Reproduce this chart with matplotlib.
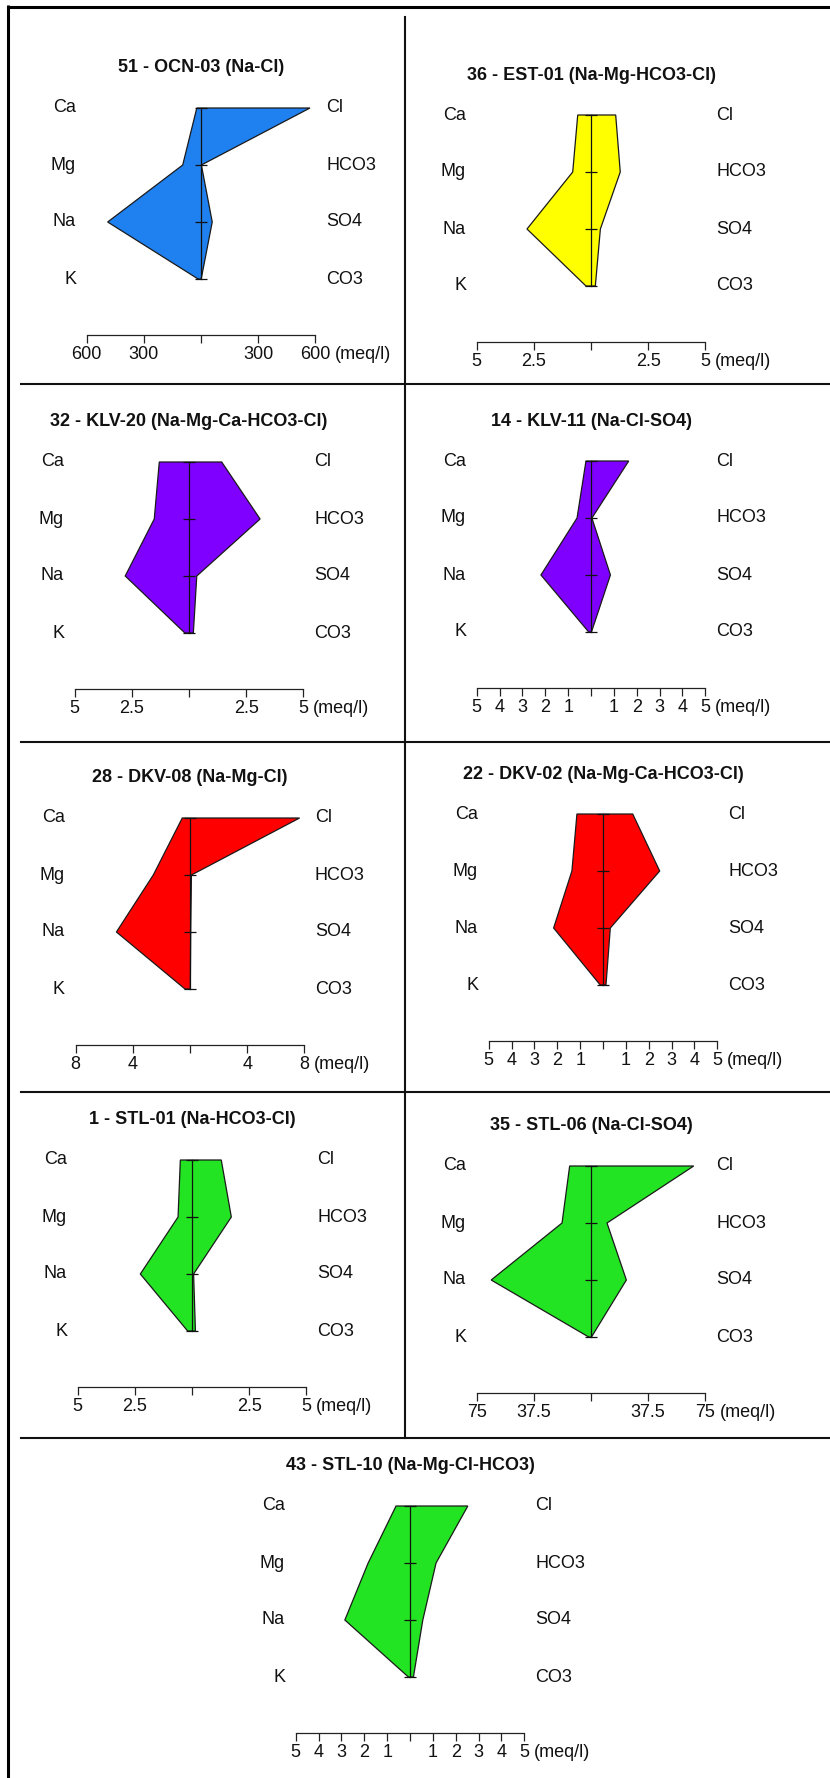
import numpy as np
import matplotlib.pyplot as plt

plt.rcParams['font.family'] = ['Liberation Sans', 'DejaVu Sans']

W, H = 830, 1778

titles = ["51 - OCN-03 (Na-Cl)", "36 - EST-01 (Na-Mg-HCO3-Cl)",
          "32 - KLV-20 (Na-Mg-Ca-HCO3-Cl)", "14 - KLV-11 (Na-Cl-SO4)",
          "28 - DKV-08 (Na-Mg-Cl)", "22 - DKV-02 (Na-Mg-Ca-HCO3-Cl)",
          "1 - STL-01 (Na-HCO3-Cl)", "35 - STL-06 (Na-Cl-SO4)",
          "43 - STL-10 (Na-Mg-Cl-HCO3)"]
cations = ["Ca", "Mg", "Na", "K"]
anions = ["Cl", "HCO3", "SO4", "CO3"]

# meq/l, same order as cations / anions
cat_vals = [[22, 96, 490, 15],
            [0.58, 0.80, 2.80, 0.22],
            [1.30, 1.52, 2.79, 0.18],
            [0.22, 0.61, 2.19, 0.10],
            [0.54, 2.57, 5.15, 0.35],
            [1.14, 1.36, 2.16, 0.12],
            [0.51, 0.61, 2.26, 0.19],
            [14.0, 19.0, 65.5, 1.5],
            [0.61, 1.83, 2.85, 0.07]]
an_vals = [[572, 2, 59, 1],
           [1.08, 1.28, 0.41, 0.19],
           [1.43, 3.11, 0.34, 0.19],
           [1.65, 0.04, 0.85, 0.02],
           [7.67, 0.10, 0.05, 0.02],
           [1.30, 2.48, 0.32, 0.13],
           [1.28, 1.72, 0.07, 0.15],
           [67.4, 10.5, 23.2, 0.3],
           [2.53, 1.14, 0.56, 0.15]]
scale_max = [600, 5, 5, 5, 8, 5, 5, 75, 5]
tick_step = [300, 2.5, 2.5, 1, 4, 1, 2.5, 37.5, 1]

colors = ["#1f80ef", "#ffff00", "#7f00ff", "#7f00ff", "#ff0000",
          "#ff0000", "#22e422", "#22e422", "#22e422"]

# centre line x and Ca row y of each panel (pixels)
centres = [(201, 108), (591, 115), (189, 462), (591, 461), (190, 818),
           (603, 814), (192, 1160), (591, 1166), (410, 1506)]

ROW = 57.0     # px between rows
HALF = 114.3   # px from centre to full scale
LAB = 125.0    # px from centre to ion labels

fig = plt.figure(figsize=(W / 100, H / 100), dpi=100)

# frame and dividers
bg = fig.add_axes([0, 0, 1, 1])
bg.set_xlim(0, W)
bg.set_ylim(H, 0)
bg.axis('off')
bg.plot([8, W], [6.5, 6.5], color='black', lw=2.2, solid_capstyle='butt')
bg.plot([8, 8], [5, H], color='black', lw=2.2, solid_capstyle='butt')
bg.plot([404.5, 404.5], [17, 1438], color='#111111', lw=1.5)
for yy in [384, 742, 1092, 1438]:
    bg.plot([21, W], [yy, yy], color='#111111', lw=1.5)

rows = np.arange(4)


def fmt(v):
    return '' if v == 0 else '{:g}'.format(abs(v))


for i in range(9):
    cx, y0 = centres[i]
    smax = scale_max[i]
    bw, top, bh = 230, 70, 300
    ax = fig.add_axes([(cx - bw) / W, 1 - (y0 - top + bh) / H, 2 * bw / W, bh / H])
    ax.patch.set_alpha(0)
    ax.set_xlim(-bw / HALF * smax, bw / HALF * smax)
    ax.set_ylim((bh - top) / ROW, -top / ROW)

    xs = list(an_vals[i]) + [-v for v in cat_vals[i][::-1]]
    ys = list(rows) + list(rows[::-1])
    ax.fill(xs, ys, facecolor=colors[i], edgecolor='#1a1a1a', lw=0.9, zorder=2)
    ax.plot(np.zeros(4), rows, color='#111111', lw=0.9, marker='_', ms=8,
            mew=0.9, zorder=3)

    for r in rows:
        ax.text(-LAB / HALF * smax, r, cations[r], ha='right', va='center',
                fontsize=13, color='#111111')
        ax.text(LAB / HALF * smax, r, anions[r], ha='left', va='center',
                fontsize=13, color='#111111')
    ax.text(0, -40 / ROW, titles[i], ha='center', va='center', fontsize=13,
            fontweight='bold', color='#111111')

    # scale bar
    for s in ['top', 'left', 'right']:
        ax.spines[s].set_visible(False)
    sp = ax.spines['bottom']
    sp.set_position(('data', 3 + 56 / ROW))
    sp.set_bounds(-smax, smax)
    sp.set_linewidth(0.9)
    sp.set_color('#222222')
    ticks = np.arange(-smax, smax + tick_step[i] / 2, tick_step[i])
    ax.set_xticks(ticks)
    ax.set_xticklabels([fmt(t) for t in ticks])
    ax.set_yticks([])
    ax.tick_params(axis='x', direction='out', length=6, width=0.9,
                   color='#222222', labelsize=13, pad=2, labelcolor='#111111')
    last = ax.xaxis.get_major_ticks()[len(ticks) - 1].label1
    ax.annotate('(meq/l)', xy=(1, 0), xycoords=last, xytext=(3.5, 0),
                textcoords='offset points', ha='left', va='bottom',
                fontsize=13, color='#111111')

fig.savefig('out.png', dpi=100)
